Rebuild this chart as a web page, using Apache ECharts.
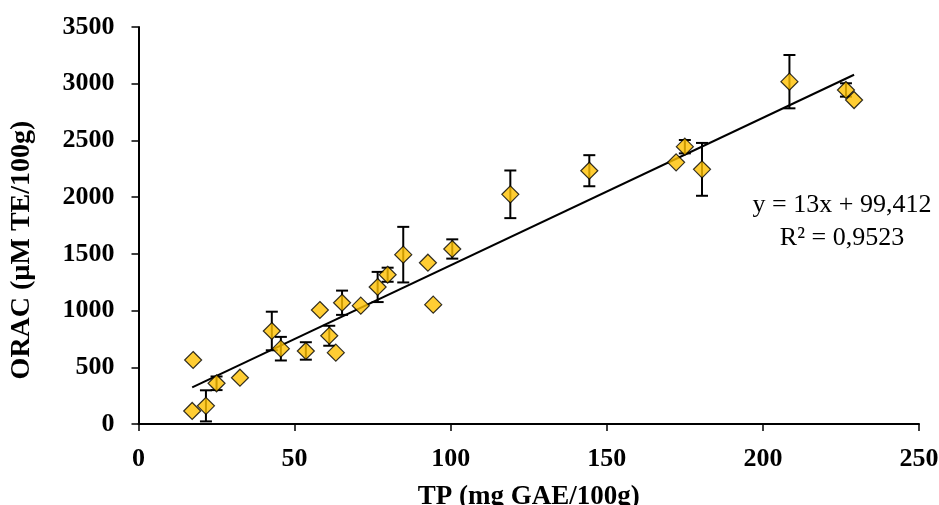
<!DOCTYPE html>
<html>
<head>
<meta charset="utf-8">
<script src="https://cdn.jsdelivr.net/npm/echarts@6/dist/echarts.min.js"></script>
<style>
  html, body { margin: 0; padding: 0; background: #fff; }
  #chart { width: 939px; height: 505px; }
</style>
</head>
<body>
<div id="chart"></div>
<script>
// Total phenolics (TP) vs ORAC antioxidant capacity, mean ± SD per sample
const tp   = [17.5, 17.2, 21.6, 25.0, 32.5, 42.7, 45.6, 53.6, 58.1, 61.1, 63.2, 65.2, 71.2, 76.6,
              79.8, 84.8, 92.7, 94.4, 100.5, 119.1, 144.4, 172.2, 175.0, 180.5, 208.5, 226.6, 229.2];
const orac = [564, 115, 160, 359, 408, 820, 664, 644, 1005, 778, 629, 1069, 1043, 1208,
              1316, 1493, 1422, 1052, 1543, 2025, 2233, 2307, 2445, 2245, 3018, 2945, 2856];
const sd   = [0, 0, 137, 60, 0, 170, 104, 77, 0, 88, 0, 107, 0, 133,
              62, 245, 0, 0, 85, 210, 137, 0, 59, 233, 235, 59, 0];

// Linear fit reported on the chart
const slope = 13;
const intercept = 99.412;
const fitLabel = ['y = 13x + 99,412', 'R\u00B2 = 0,9523'];

const xTicks = { min: 0, max: 250, interval: 50 };
const yTicks = { min: 0, max: 3500, interval: 500 };

const points = tp.map((x, i) => [x, orac[i]]);
const errData = tp.map((x, i) => [x, orac[i] - sd[i], orac[i] + sd[i]]);
const xLo = Math.min(...tp), xHi = Math.max(...tp);
const fitLine = [[xLo, slope * xLo + intercept], [xHi, slope * xHi + intercept]];

const serif = '"Liberation Serif", "Times New Roman", serif';
const chart = echarts.init(document.getElementById('chart'), null, { renderer: 'canvas' });

chart.setOption({
  animation: false,
  backgroundColor: '#fff',
  grid: { left: 138.5, right: 20, top: 27, bottom: 81, outerBoundsMode: 'none', containLabel: false },
  xAxis: {
    type: 'value', min: xTicks.min, max: xTicks.max, interval: xTicks.interval,
    name: 'TP (mg GAE/100g)', nameLocation: 'middle', nameGap: 60,
    nameTextStyle: { fontFamily: serif, fontWeight: 'bold', fontSize: 27, color: '#000' },
    axisLine: { show: true, lineStyle: { color: '#000', width: 2 } },
    axisTick: { show: true, length: 7, lineStyle: { color: '#000', width: 1.5 } },
    axisLabel: { fontFamily: serif, fontWeight: 'bold', fontSize: 26, color: '#000', margin: 22 },
    splitLine: { show: false }
  },
  yAxis: {
    type: 'value', min: yTicks.min, max: yTicks.max, interval: yTicks.interval,
    name: 'ORAC (\u00B5M TE/100g)', nameLocation: 'middle', nameGap: 103,
    nameTextStyle: { fontFamily: serif, fontWeight: 'bold', fontSize: 28, color: '#000',
                     padding: [0, 49, 0, 0] },
    axisLine: { show: true, lineStyle: { color: '#000', width: 2 } },
    axisTick: { show: true, length: 7, lineStyle: { color: '#000', width: 1.5 } },
    axisLabel: { fontFamily: serif, fontWeight: 'bold', fontSize: 26, color: '#000', margin: 24,
                 formatter: v => String(v) },
    splitLine: { show: false }
  },
  series: [
    {
      type: 'line', data: fitLine, showSymbol: false, symbol: 'none',
      lineStyle: { color: '#000', width: 2 }, z: 2, silent: true
    },
    {
      type: 'custom', z: 3, silent: true,
      renderItem: function (params, api) {
        const x = api.value(0), lo = api.value(1), hi = api.value(2);
        if (hi - lo <= 0) return null;
        const top = api.coord([x, hi]);
        const bot = api.coord([x, lo]);
        const cap = 6;
        const style = { stroke: '#000', lineWidth: 2 };
        return {
          type: 'group',
          children: [
            { type: 'line', shape: { x1: top[0], y1: top[1], x2: bot[0], y2: bot[1] }, style },
            { type: 'line', shape: { x1: top[0] - cap, y1: top[1], x2: top[0] + cap, y2: top[1] }, style },
            { type: 'line', shape: { x1: bot[0] - cap, y1: bot[1], x2: bot[0] + cap, y2: bot[1] }, style }
          ]
        };
      },
      encode: { x: 0, y: [1, 2] },
      data: errData
    },
    {
      type: 'scatter', data: points, symbol: 'diamond', symbolSize: 17, z: 4,
      itemStyle: { color: '#FFC000', borderColor: '#000', borderWidth: 1.2 }
    }
  ],
  graphic: [
    {
      type: 'text', x: 842, y: 205,
      style: { text: fitLabel[0], fontFamily: serif, fontSize: 26, fill: '#000',
               align: 'center', verticalAlign: 'middle' }
    },
    {
      type: 'text', x: 842, y: 238,
      style: { text: fitLabel[1], fontFamily: serif, fontSize: 26, fill: '#000',
               align: 'center', verticalAlign: 'middle' }
    }
  ]
});
</script>
</body>
</html>
